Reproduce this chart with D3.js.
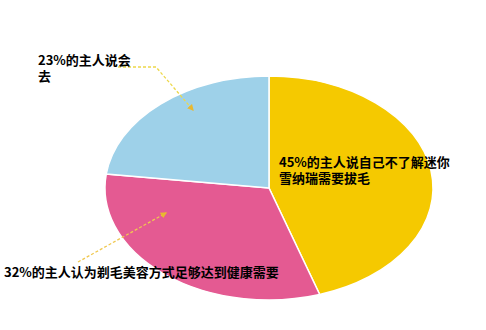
<!DOCTYPE html>
<html>
<head>
<meta charset="utf-8">
<script src="https://cdn.jsdelivr.net/npm/d3@7"></script>
<style>
  body { margin: 0; background: #fff; }
  text { font-family: "Noto Sans CJK SC", sans-serif; font-weight: bold; font-size: 13px; fill: #000; }
</style>
</head>
<body>
<svg width="486" height="330"></svg>
<script>
(function () {
  "use strict";
  const categories = ["迷你雪纳瑞需要拔毛", "剃毛足够", "会去"];
  const values = [45, 32, 23];
  const colors = ["#F5C900", "#E45A92", "#9ED1E9"];
  const labels = [
    ["45%的主人说自己不了解迷你", "雪纳瑞需要拔毛"],
    ["32%的主人认为剃毛美容方式足够达到健康需要"],
    ["23%的主人说会", "去"]
  ];

  const svg = d3.select("svg");
  const cx = 269, cy = 188, rx = 164, ry = 112;

  const pie = d3.pie().sort(null).value(d => d)(values);
  const arc = d3.arc().innerRadius(0).outerRadius(rx);

  const g = svg.append("g")
    .attr("transform", `translate(${cx},${cy}) scale(1,${ry / rx})`);
  g.selectAll("path")
    .data(pie)
    .join("path")
    .attr("d", arc)
    .attr("fill", (d, i) => colors[i])
    .attr("stroke", "#fff")
    .attr("stroke-width", 1.5)
    .attr("vector-effect", "non-scaling-stroke");

  const defs = svg.append("defs");
  defs.append("marker")
    .attr("id", "arr")
    .attr("viewBox", "0 0 10 10")
    .attr("refX", 8).attr("refY", 5)
    .attr("markerWidth", 5).attr("markerHeight", 5)
    .attr("orient", "auto")
    .append("path")
    .attr("d", "M0,0L10,5L0,10z")
    .attr("fill", "#E8B830");

  const line = d3.line();
  svg.append("path")
    .attr("d", line([[118, 67], [156, 67], [193, 110]]))
    .attr("fill", "none")
    .attr("stroke", "#EDD84A")
    .attr("stroke-width", 1.3)
    .attr("stroke-dasharray", "3,2")
    .attr("marker-end", "url(#arr)");
  svg.append("path")
    .attr("d", line([[78, 262], [166, 213]]))
    .attr("fill", "none")
    .attr("stroke", "#F0C850")
    .attr("stroke-width", 1.3)
    .attr("stroke-dasharray", "3,2")
    .attr("marker-end", "url(#arr)");

  const pos = [[279, 167], [4, 277], [38, 65]];
  labels.forEach((lines, i) => {
    lines.forEach((s, j) => {
      svg.append("text")
        .attr("x", pos[i][0])
        .attr("y", pos[i][1] + j * 16)
        .text(s);
    });
  });
})(d3);
</script>
</body>
</html>
